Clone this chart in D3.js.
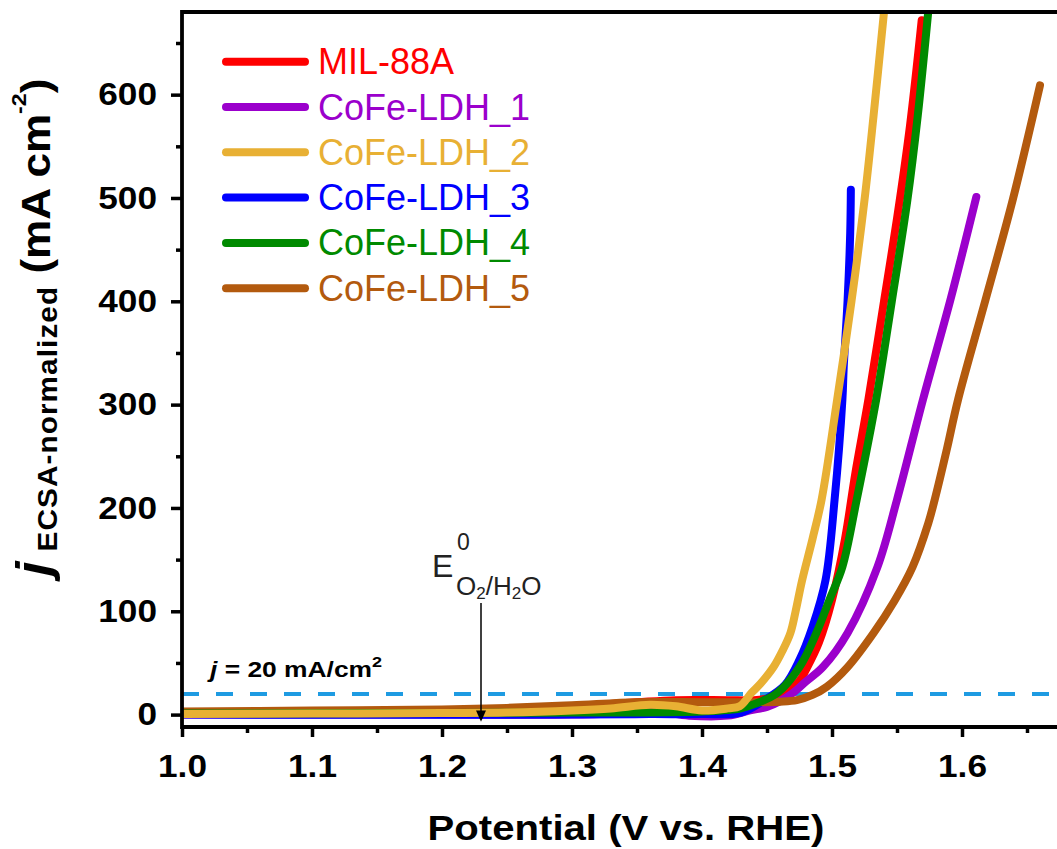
<!DOCTYPE html>
<html>
<head>
<meta charset="utf-8">
<script src="https://cdn.jsdelivr.net/npm/d3@7"></script>
<style>
  body { margin: 0; background: #fff; }
  svg { display: block; font-family: "Liberation Sans", Arial, sans-serif; }
</style>
</head>
<body>
<svg id="chart"></svg>
<script>
// series names + colours
const names = ["MIL-88A", "CoFe-LDH_1", "CoFe-LDH_2", "CoFe-LDH_3", "CoFe-LDH_4", "CoFe-LDH_5"]
const colors = ["#ff0000", "#9b00cc", "#e8b034", "#0000ff", "#008a00", "#b35a0e"]

// [potential V, current mA cm-2]
const mil88a = [[1.00, 2], [1.10, 3], [1.20, 4], [1.25, 5], [1.30, 8], [1.35, 12], [1.38, 14], [1.42, 14], [1.44, 14],
  [1.455, 17], [1.465, 23], [1.475, 33], [1.481, 46], [1.490, 70], [1.500, 111], [1.510, 170], [1.518, 234],
  [1.528, 305], [1.540, 400], [1.550, 480], [1.560, 570], [1.569, 672]]
const ldh1 = [[1.00, 0], [1.20, 0], [1.30, 0], [1.34, 1.5], [1.365, 3], [1.39, -1], [1.42, -1], [1.437, 4],
  [1.450, 7.5], [1.460, 13], [1.470, 21], [1.480, 32], [1.493, 46], [1.512, 79], [1.535, 143], [1.550, 208],
  [1.570, 305], [1.591, 401], [1.611, 501]]
const ldh2 = [[1.00, 0.5], [1.10, 1], [1.20, 1.5], [1.25, 2], [1.30, 4], [1.33, 6], [1.36, 9.5], [1.38, 8],
  [1.40, 4], [1.42, 6], [1.429, 8], [1.438, 21], [1.445, 30], [1.455, 46], [1.462, 62], [1.468, 79], [1.472, 100],
  [1.477, 130], [1.485, 170], [1.492, 208], [1.504, 305], [1.515, 400], [1.525, 498], [1.532, 580], [1.540, 680]]
const ldh3 = [[1.00, 0], [1.30, 0], [1.36, 0.5], [1.40, 0.5], [1.43, 2], [1.448, 14], [1.464, 29], [1.475, 53],
  [1.485, 85], [1.495, 130], [1.502, 208], [1.508, 305], [1.509, 336], [1.512, 401], [1.514, 466], [1.5145, 508]]
const ldh4 = [[1.00, 1], [1.20, 1.5], [1.30, 2], [1.40, 3], [1.43, 6], [1.442, 11], [1.458, 21], [1.475, 46],
  [1.488, 79], [1.498, 111], [1.508, 143], [1.519, 208], [1.534, 305], [1.546, 400], [1.558, 498], [1.566, 580],
  [1.574, 680]]
const ldh5 = [[1.00, 3], [1.10, 4], [1.20, 5], [1.25, 6.5], [1.30, 9], [1.35, 12], [1.40, 12], [1.44, 12],
  [1.46, 12.5], [1.473, 14], [1.485, 19], [1.496, 27], [1.512, 46], [1.532, 79], [1.548, 110], [1.562, 143],
  [1.574, 185], [1.579, 208], [1.588, 255], [1.597, 305], [1.618, 401], [1.639, 498], [1.660, 609]]
const seriesData = [mil88a, ldh1, ldh2, ldh3, ldh4, ldh5]
const drawOrder = [0, 1, 3, 5, 4, 2]

// ticks
const xTicks = [1.0, 1.1, 1.2, 1.3, 1.4, 1.5, 1.6]
const xMinor = [1.05, 1.15, 1.25, 1.35, 1.45, 1.55, 1.65]
const yTicks = [0, 100, 200, 300, 400, 500, 600]
const yMinor = [50, 150, 250, 350, 450, 550, 650]
const refCurrent = 20
const e0 = 1.23

//dimensions
const w = 1057
const h = 849
const margin = { left: 182, right: 1092, top: 12, bottom: 727 }
const wide = 1.1   // the bold text in the figure runs a bit wider than Liberation Sans

const svg = d3.select('#chart').attr('width', w).attr('height', h)

//scales
const xScale = d3.scaleLinear().domain([1.0, 1.7]).range([margin.left, margin.right])
const yScale = d3.scaleLinear().domain([-12, 680]).range([margin.bottom, margin.top])

svg.append('clipPath').attr('id', 'plot')
  .append('rect').attr('x', margin.left).attr('y', margin.top)
  .attr('width', w - margin.left).attr('height', margin.bottom - margin.top)

//dashed reference line
svg.append('line')
  .attr('x1', xScale(1.0)).attr('x2', w)
  .attr('y1', yScale(refCurrent)).attr('y2', yScale(refCurrent))
  .attr('stroke', '#1e9be2').attr('stroke-width', 4).attr('stroke-dasharray', '17 17')

//curves
const line = d3.line()
  .x(d => xScale(d[0]))
  .y(d => yScale(d[1]))
  .curve(d3.curveCatmullRom.alpha(0.5))

const g = svg.append('g').attr('clip-path', 'url(#plot)')
drawOrder.forEach(i => {
  g.append('path')
    .attr('d', line(seriesData[i]))
    .attr('fill', 'none')
    .attr('stroke', colors[i])
    .attr('stroke-width', 8)
    .attr('stroke-linecap', 'round')
    .attr('stroke-linejoin', 'round')
})

//axes
const xAxis = d3.axisBottom(xScale).tickValues(xTicks).tickFormat(d3.format('.1f')).tickSize(10).tickSizeOuter(0).tickPadding(17)
const xAxisMinor = d3.axisBottom(xScale).tickValues(xMinor).tickFormat('').tickSize(6).tickSizeOuter(0)
const yAxis = d3.axisLeft(yScale).tickValues(yTicks).tickSize(11).tickSizeOuter(0).tickPadding(14)
const yAxisMinor = d3.axisLeft(yScale).tickValues(yMinor).tickFormat('').tickSize(6).tickSizeOuter(0)

svg.append('g').attr('transform', `translate(0, ${margin.bottom})`).call(xAxis)
svg.append('g').attr('transform', `translate(0, ${margin.bottom})`).call(xAxisMinor)
const gy = svg.append('g').attr('transform', `translate(${margin.left}, 0)`).call(yAxis)
svg.append('g').attr('transform', `translate(${margin.left}, 0)`).call(yAxisMinor)

svg.selectAll('.domain').remove()
svg.selectAll('.tick line').attr('stroke', '#000').attr('stroke-width', 3.5)
svg.selectAll('.tick text')
  .attr('fill', '#000')
  .attr('transform', `scale(${wide}, 1)`)
  .style('font-size', '32px')
  .style('font-weight', 'bold')
  .style('font-family', '"Liberation Sans", Arial, sans-serif')
gy.selectAll('.tick text').attr('x', -25 / wide)

//frame
svg.append('path')
  .attr('d', `M${margin.left},${margin.bottom}H${w}M${margin.left},${margin.bottom}V${margin.top}H${w}`)
  .attr('fill', 'none').attr('stroke', '#000').attr('stroke-width', 3.8)
  .attr('stroke-linecap', 'square')

//labels
svg.append('text')
  .attr('transform', `translate(626, 840) scale(${1.115}, 1)`)
  .attr('text-anchor', 'middle')
  .style('font-size', '36px').style('font-weight', 'bold')
  .text('Potential (V vs. RHE)')

const yLabel = svg.append('text')
  .attr('transform', `translate(50, 576) rotate(-90) scale(${wide}, 1)`)
  .style('font-weight', 'bold')
yLabel.append('tspan').style('font-size', '48px').style('font-style', 'italic').text('j')
yLabel.append('tspan').attr('dx', 9).attr('dy', 7).style('font-size', '27px').style('letter-spacing', '1px').text('ECSA-normalized')
yLabel.append('tspan').attr('dy', -7).style('font-size', '40px').text(' (mA cm')
yLabel.append('tspan').attr('dy', -24).style('font-size', '21px').text('-2')
yLabel.append('tspan').attr('dy', 24).style('font-size', '40px').text(')')

//j = 20 label
const jLabel = svg.append('text')
  .attr('transform', 'translate(210, 677) scale(1.2, 1)')
  .style('font-weight', 'bold').style('font-size', '22px')
jLabel.append('tspan').style('font-style', 'italic').text('j')
jLabel.append('tspan').text(' = 20 mA/cm')
jLabel.append('tspan').attr('dy', -10).style('font-size', '15px').text('2')

//E0 annotation
svg.append('text').attr('x', 432).attr('y', 577)
  .style('font-size', '32px').attr('fill', '#222').text('E')
svg.append('text').attr('x', 457).attr('y', 550)
  .style('font-size', '23px').attr('fill', '#222').text('0')
const sub = svg.append('text').attr('x', 456).attr('y', 595)
  .style('font-size', '26px').attr('fill', '#222')
sub.append('tspan').text('O')
sub.append('tspan').attr('dy', 4).style('font-size', '17px').text('2')
sub.append('tspan').attr('dy', -4).text('/H')
sub.append('tspan').attr('dy', 4).style('font-size', '17px').text('2')
sub.append('tspan').attr('dy', -4).text('O')

const ax = xScale(e0)
svg.append('line')
  .attr('x1', ax).attr('x2', ax)
  .attr('y1', 603).attr('y2', yScale(-4))
  .attr('stroke', '#000').attr('stroke-width', 1.5)
svg.append('path')
  .attr('d', `M${ax - 5},${yScale(4)}L${ax + 5},${yScale(4)}L${ax},${yScale(-7)}Z`)
  .attr('fill', '#000')

//legend
const legend = svg.append('g')
names.forEach((name, i) => {
  const ly = 61.7 + i * 45.3
  legend.append('line')
    .attr('x1', 226).attr('x2', 305)
    .attr('y1', ly).attr('y2', ly)
    .attr('stroke', colors[i]).attr('stroke-width', 8).attr('stroke-linecap', 'round')
  legend.append('text')
    .attr('x', 318).attr('y', ly + 12.5)
    .style('font-size', '36px')
    .attr('fill', colors[i])
    .text(name)
})
</script>
</body>
</html>
